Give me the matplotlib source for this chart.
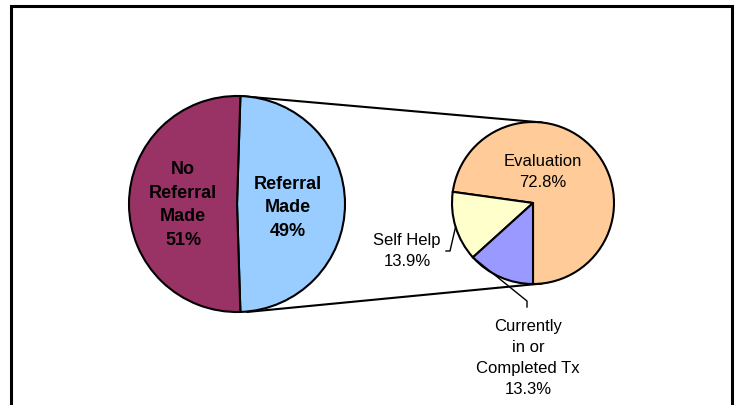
import matplotlib.pyplot as plt
from matplotlib.patches import Rectangle
import numpy as np

plt.rcParams['font.family'] = ['Liberation Sans', 'DejaVu Sans']

# main pie
main_labels = ['Referral\nMade', 'No\nReferral\nMade']
main_values = [49, 51]
main_colors = ['#99CCFF', '#993366']

# breakdown of the referrals
sub_labels = ['Evaluation', 'Self Help', 'Currently\nin or\nCompleted Tx']
sub_values = [72.8, 13.9, 13.3]
sub_colors = ['#FFCC99', '#FFFFCC', '#9999FF']

W, H = 737, 406


def px(x, y):
    # image pixel coords -> data coords (y up)
    return x, H - y


def edge_point(center, r, ang):
    a = np.radians(ang)
    return center[0] + r * np.cos(a), center[1] + r * np.sin(a)


fig = plt.figure(figsize=(7.37, 4.06), dpi=100)
ax = fig.add_axes([0, 0, 1, 1])

c1, r1 = px(237, 205), 108
c2, r2 = px(533, 204), 81

# referral slice centred on the right side, like excel pie-of-pie
half = main_values[0] / sum(main_values) * 360 / 2
w1, _ = ax.pie(main_values, colors=main_colors, startangle=-half, counterclock=True,
               center=c1, radius=r1,
               wedgeprops=dict(edgecolor='black', linewidth=1.5))
w2, _ = ax.pie(sub_values, colors=sub_colors, startangle=-90, counterclock=True,
               center=c2, radius=r2,
               wedgeprops=dict(edgecolor='black', linewidth=1.5))

# connector lines between the two pies
top_a = edge_point(c1, r1, w1[0].theta2)
bot_a = edge_point(c1, r1, w1[0].theta1)
top_b = edge_point(c2, r2, 84)
bot_b = edge_point(c2, r2, -84)
ax.plot([top_a[0], top_b[0]], [top_a[1], top_b[1]], color='black', lw=1.5, zorder=0)
ax.plot([bot_a[0] + 7, bot_b[0]], [bot_a[1], bot_b[1]], color='black', lw=1.5, zorder=0)

# labels of the main pie
bold = dict(ha='center', va='center', fontsize=13, fontweight='bold', linespacing=1.5)
ax.text(*px(288, 208), f'{main_labels[0]}\n{main_values[0]}%', **bold)
ax.text(*px(183, 205), f'{main_labels[1]}\n{main_values[1]}%', **bold)

# labels of the breakdown pie
norm = dict(ha='center', va='center', fontsize=12, linespacing=1.5)
ax.text(*px(543, 172), f'{sub_labels[0]}\n{sub_values[0]}%', **norm)
ax.text(*px(407, 251), f'{sub_labels[1]}\n{sub_values[1]}%', **norm)
ax.text(*px(528, 358), f'{sub_labels[2]}\n{sub_values[2]}%', **norm)

# leader lines
p = edge_point(c2, r2, (w2[1].theta1 + w2[1].theta2) / 2)
q1, q2 = px(450, 252), px(446, 252)
ax.plot([p[0], q1[0], q2[0]], [p[1], q1[1], q2[1]], color='black', lw=1)
p = edge_point(c2, r2, w2[2].theta1)
q1, q2 = px(527, 302), px(527, 308)
ax.plot([p[0], q1[0], q2[0]], [p[1], q1[1], q2[1]], color='black', lw=1)

# chart frame
ax.add_patch(Rectangle(px(10.5, 420), 722, 413, fill=False, edgecolor='black', lw=2.2, zorder=5))

ax.set_xlim(0, W)
ax.set_ylim(0, H)
ax.axis('off')

fig.savefig('out.png', dpi=100)
